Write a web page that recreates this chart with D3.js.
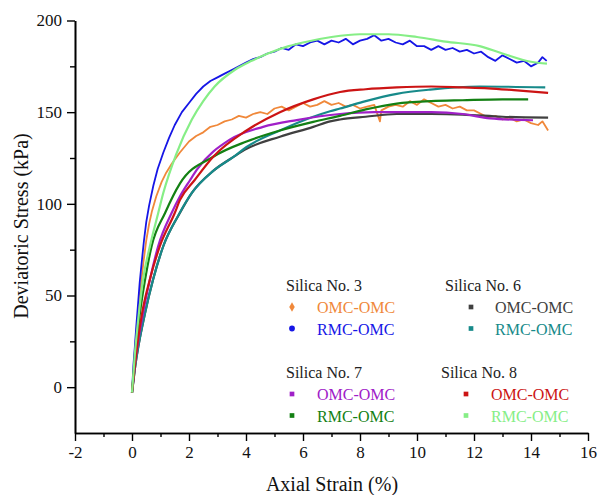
<!DOCTYPE html>
<html>
<head>
<meta charset="utf-8">
<script src="https://cdn.jsdelivr.net/npm/d3@7"></script>
<style>
  body { margin: 0; background: #fff; }
  svg { display: block; }
</style>
</head>
<body>
<script>
// strain (%) vs deviatoric stress (kPa)
var s3omc = [[0,-3],[0.1,20],[0.2,38],[0.3,54],[0.4,68],[0.5,80],[0.6,89],[0.7,96],[0.85,104],[1.04,112],[1.2,117],[1.4,122],[1.68,128],[2,134],[2.25,137],[2.5,139],[2.75,142],[3,143],[3.25,145],[3.5,146],[3.75,148],[4,147],[4.25,149],[4.5,150],[4.75,149],[5,152],[5.25,153],[5.5,151],[5.75,153],[6,155],[6.25,153],[6.5,154],[6.75,156],[7,154],[7.25,155],[7.5,153],[7.75,154],[8,152],[8.25,153],[8.5,154],[8.7,145],[8.75,151],[9,153],[9.25,154],[9.5,153],[9.75,156],[10,154],[10.25,157],[10.5,155],[10.75,153],[11,154],[11.25,152],[11.5,153],[11.75,151],[12,151],[12.25,149],[12.5,147],[12.75,148],[13,146],[13.25,147],[13.5,145],[13.75,146],[14,144],[14.25,143],[14.4,145],[14.6,140]];
var s3rmc = [[0,-3],[0.05,12],[0.1,22],[0.15,33],[0.2,43],[0.27,57],[0.34,68],[0.42,80],[0.5,90],[0.6,99],[0.75,110],[0.9,119],[1.1,128],[1.3,136],[1.5,143],[1.75,150],[2,155],[2.25,160],[2.5,164],[2.75,167],[3,169],[3.25,171],[3.5,173],[3.75,175],[4,177],[4.25,179],[4.5,180],[4.75,182],[5,183],[5.25,185],[5.5,184],[5.75,187],[6,186],[6.25,188],[6.5,189],[6.75,187],[7,189],[7.25,188],[7.5,190],[7.75,187],[8,189],[8.25,190],[8.5,192],[8.75,189],[9,190],[9.25,188],[9.5,187],[9.75,189],[10,186],[10.25,186],[10.5,184],[10.75,186],[11,184],[11.25,185],[11.5,183],[11.75,184],[12,182],[12.25,183],[12.5,180],[12.75,178],[13,181],[13.25,179],[13.5,177],[13.75,178],[14,175],[14.25,177],[14.4,180],[14.55,178]];
var s6omc = [[0,-3],[0.1,10],[0.46,40.6],[0.74,58.7],[1.1,77],[1.68,95],[2.1,106],[2.85,118],[3.6,126],[4.02,130],[5.19,136.6],[6.36,142],[6.95,145],[7.3,146],[8.2,147.5],[9.29,149],[10.5,149],[11.6,148.7],[13,147.5],[14.6,147]];
var s6rmc = [[0,-3],[0.1,10],[0.46,40.6],[0.74,58.7],[1.1,77],[1.6,93],[2.1,106],[2.85,118],[3.6,126],[4.02,131],[5.19,140],[6.36,147.5],[6.95,150.5],[7.3,152],[8.1,155.6],[9.29,160],[10.46,162.3],[12.2,164],[14.5,163.5]];
var s7omc = [[0,-3],[0.1,12],[0.39,40.6],[0.63,58.7],[0.92,77],[1.39,95],[1.68,104],[2.04,113],[2.27,118.5],[3.43,135],[4.6,142],[5.78,145.7],[7.3,149],[8.5,150],[9.29,150],[10.5,150],[11.6,149],[12.56,146.6],[14.07,145.6]];
var s7rmc = [[0,-3],[0.1,15],[0.28,40.6],[0.46,58.7],[0.69,77],[1.16,95],[1.68,111],[2.85,125.7],[4.02,134],[5.19,140],[6.36,144.7],[7.3,148],[8.2,151.5],[9.29,154.7],[10.5,156],[11.6,156.5],[13,157],[13.9,157]];
var s8omc = [[0,-3],[0.1,12],[0.35,40],[0.63,59],[0.98,77],[1.5,95],[1.68,102],[2.2,113],[2.85,125.7],[4.02,140],[5.19,150],[6.36,157],[7.3,161],[8.2,162.5],[9.29,163.5],[10.5,164],[11.6,163.5],[12.5,163],[13.4,162],[14.6,160.5]];
var s8rmc = [[0,-3],[0.1,18],[0.24,40],[0.39,59],[0.63,77],[0.92,95],[1.1,106],[1.55,127],[2.1,146],[2.5,156],[2.9,164],[3.6,173],[4.2,178],[4.77,182],[5.5,186],[6,188],[7,191],[8,192.5],[9,192.5],[10,191],[11,188.5],[12.2,186],[13,182],[14,177.5],[14.56,176.5]];

var groups = ["Silica No. 3", "Silica No. 6", "Silica No. 7", "Silica No. 8"];
var conditions = ["OMC-OMC", "RMC-OMC"];
var colors = ["#f0883a", "#1616e6", "#404040", "#178a8a", "#a020c8", "#138013", "#cc1414", "#86ee86"];
var markers = ["diamond", "circle", "square", "square", "square", "square", "square", "square"];
var seriesData = [s3omc, s3rmc, s6omc, s6rmc, s7omc, s7rmc, s8omc, s8rmc];
var noisy = [true, true, false, false, false, false, false, false];

var xMajor = [-2, 0, 2, 4, 6, 8, 10, 12, 14, 16];
var xMinor = [-1, 1, 3, 5, 7, 9, 11, 13, 15];
var yMajor = [0, 50, 100, 150, 200];
var yMinor = [25, 75, 125, 175];

var width = 598, height = 495;
var serif = "'Liberation Serif', 'Times New Roman', serif";

var x = d3.scaleLinear().domain([-2, 16]).range([75, 588]);
var y = d3.scaleLinear().domain([-25, 200]).range([433, 20.5]);

var svg = d3.select("body").append("svg")
  .attr("width", width)
  .attr("height", height)
  .style("font-family", serif);

// curves: measured (noisy) ones drawn straight point to point, the rest smoothed
var smoothLine = d3.line()
  .x(function (d) { return x(d[0]); })
  .y(function (d) { return y(d[1]); })
  .curve(d3.curveMonotoneX);
var rawLine = d3.line()
  .x(function (d) { return x(d[0]); })
  .y(function (d) { return y(d[1]); });

svg.selectAll("path.curve")
  .data(seriesData)
  .enter().append("path")
  .attr("class", "curve")
  .attr("d", function (d, i) { return noisy[i] ? rawLine(d) : smoothLine(d); })
  .attr("fill", "none")
  .attr("stroke", function (d, i) { return colors[i]; })
  .attr("stroke-width", function (d, i) { return noisy[i] ? 1.8 : 2.2; })
  .attr("stroke-linejoin", "round");

// axes
var fmt = function (d) { return String(d); };
svg.append("g").attr("transform", "translate(0," + y(-25) + ")")
  .call(d3.axisBottom(x).tickValues(xMajor).tickSize(8).tickSizeOuter(0).tickPadding(5).tickFormat(fmt));
svg.append("g").attr("transform", "translate(0," + y(-25) + ")")
  .call(d3.axisBottom(x).tickValues(xMinor).tickSize(4).tickSizeOuter(0).tickFormat(""));

svg.append("g").attr("transform", "translate(" + x(-2) + ",0)")
  .call(d3.axisLeft(y).tickValues(yMajor).tickSize(8).tickSizeOuter(0).tickPadding(5).tickFormat(fmt));
svg.append("g").attr("transform", "translate(" + x(-2) + ",0)")
  .call(d3.axisLeft(y).tickValues(yMinor).tickSize(5).tickSizeOuter(0).tickFormat(""));

svg.selectAll(".domain").attr("stroke", "#000").attr("stroke-width", 1.6);
svg.selectAll(".tick line").attr("stroke", "#000").attr("stroke-width", 1.4);
svg.selectAll(".tick text")
  .style("font-family", serif)
  .attr("font-size", 17)
  .attr("fill", "#111");

// axis titles
svg.append("text")
  .attr("x", 332).attr("y", 491)
  .attr("text-anchor", "middle")
  .style("font-family", serif)
  .attr("font-size", 20)
  .attr("fill", "#111")
  .text("Axial Strain (%)");

svg.append("text")
  .attr("transform", "translate(28,226) rotate(-90)")
  .attr("text-anchor", "middle")
  .style("font-family", serif)
  .attr("font-size", 20)
  .attr("fill", "#111")
  .text("Deviatoric Stress (kPa)");

// legend
var legendPos = [
  { hx: 286, hy: 291, mx: 292, tx: 317 },
  { hx: 445, hy: 291, mx: 471, tx: 495 },
  { hx: 286, hy: 378, mx: 292, tx: 317 },
  { hx: 441, hy: 378, mx: 466, tx: 491 }
];

groups.forEach(function (g, gi) {
  var p = legendPos[gi];
  svg.append("text")
    .attr("x", p.hx).attr("y", p.hy)
    .style("font-family", serif)
    .attr("font-size", 16)
    .attr("fill", "#222")
    .text(g);
  conditions.forEach(function (c, ci) {
    var si = gi * 2 + ci;
    var by = p.hy + 22 + ci * 21.5;
    var sym = markers[si] == "circle" ? d3.symbolCircle : (markers[si] == "diamond" ? d3.symbolDiamond : d3.symbolSquare);
    svg.append("path")
      .attr("transform", "translate(" + p.mx + "," + (by - 6) + ")")
      .attr("d", d3.symbol().type(sym).size(markers[si] == "square" ? 22 : 26)())
      .attr("fill", colors[si]);
    svg.append("text")
      .attr("x", p.tx).attr("y", by)
      .style("font-family", serif)
      .attr("font-size", 16)
      .attr("fill", colors[si])
      .text(c);
  });
});
</script>
</body>
</html>
